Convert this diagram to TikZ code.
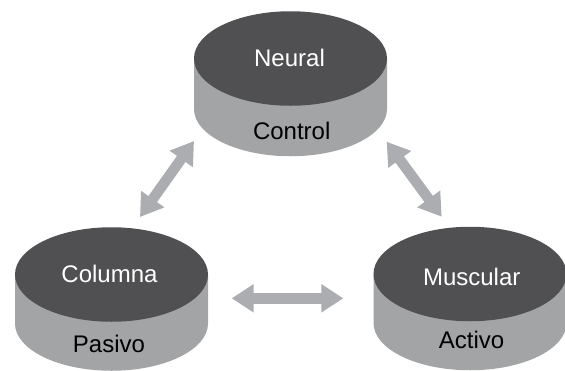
\documentclass[tikz,border=0pt]{standalone}
\usepackage{fontspec}
\setmainfont{Liberation Sans}
\usetikzlibrary{shapes.geometric,arrows.meta}
\definecolor{drumtop}{HTML}{505052}
\definecolor{drumside}{HTML}{A3A4A6}
\definecolor{linkgrey}{HTML}{ABADB0}
\tikzset{
  drumface/.style={ellipse,fill=drumtop,draw=none,inner sep=0pt,outer sep=0pt,minimum width=193pt,minimum height=94.5pt},
  sidefill/.style={fill=drumside,draw=none},
  toptext/.style={anchor=base,text=white,font=\fontsize{24}{24}\selectfont,inner sep=0pt},
  sidetext/.style={anchor=base,text=black,font=\fontsize{24}{24}\selectfont,inner sep=0pt},
  biarrow/.style={draw=linkgrey,line width=10.5pt,{Triangle[length=22pt,width=27pt]}-{Triangle[length=22pt,width=27pt]}}
}
\newcommand{\drumbody}[3]{% cx, cy, depth
  \fill[sidefill] (#1-96.5,#2) -- (#1-96.5,#2+#3) arc[start angle=180,end angle=360,x radius=96.5,y radius=-47.25] -- (#1+96.5,#2) -- cycle;
}
\begin{document}
\begin{tikzpicture}[x=1pt,y=-1pt]
\useasboundingbox (0,0) rectangle (565,370);
\clip (0,0) rectangle (565,370);
\drumbody{290.5}{58.5}{50.5}
\drumbody{111.5}{274.5}{49}
\drumbody{470}{274}{49}
\node[drumface] (neural) at (290.5,58.5) {};
\node[drumface] (columna) at (111.5,274.5) {};
\node[drumface] (muscular) at (470,274) {};
\node[toptext] (neuralt) at (289.5,66.5) {Neural};
\node[sidetext] (control) at (291.7,139.5) {Control};
\node[toptext] (columnat) at (109.5,282.7) {Columna};
\node[sidetext] (pasivo) at (109,352.7) {Pasivo};
\node[toptext] (musculart) at (471.7,285) {Muscular};
\node[sidetext] (activo) at (471.5,348) {Activo};
\coordinate (la) at (194,141);
\coordinate (lb) at (140,217);
\coordinate (ra) at (386.7,141.7);
\coordinate (rb) at (441.7,216.7);
\coordinate (ha) at (231.7,298.3);
\coordinate (hb) at (343.3,298.3);
\draw[biarrow] (la) -- (lb);
\draw[biarrow] (ra) -- (rb);
\draw[biarrow] (ha) -- (hb);
\end{tikzpicture}
\end{document}
